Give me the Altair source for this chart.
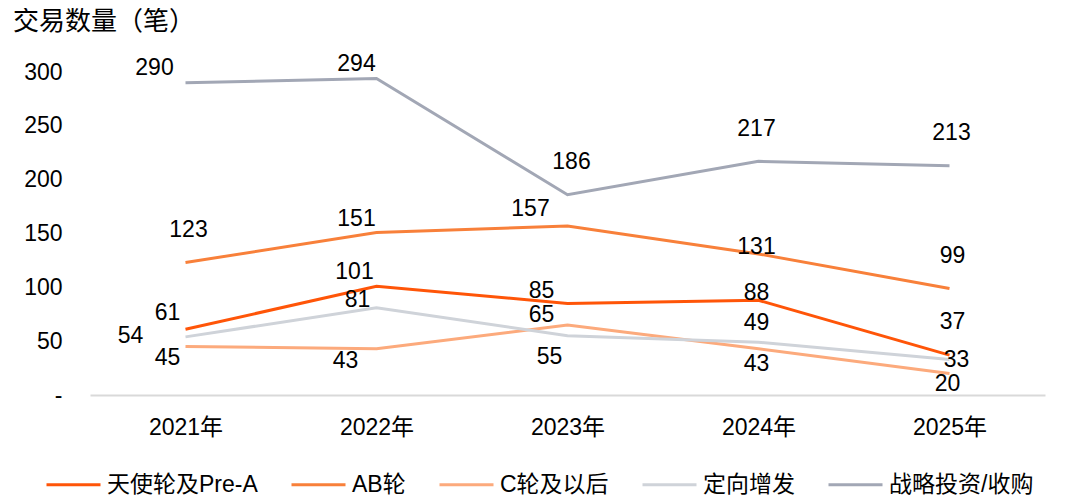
import altair as alt
import pandas as pd

years = ["2021年", "2022年", "2023年", "2024年", "2025年"]
series = ["天使轮及Pre-A", "AB轮", "C轮及以后", "定向增发", "战略投资/收购"]
colors = ["#FF5508", "#F8803A", "#FCAA7C", "#CFD3D9", "#A2A7B5"]

angel = [61, 101, 85, 88, 37]
ab = [123, 151, 157, 131, 99]
c_round = [45, 43, 65, 43, 20]
placement = [54, 81, 55, 49, 33]
strategic = [290, 294, 186, 217, 213]
values = [angel, ab, c_round, placement, strategic]

# label offsets in pixels (dx right, dy down), per series per year
label_dx = [
    [-18, -22, -26, -2, 3],
    [3, -20, -37, -2, 3],
    [-18, -31, -26, -2, -2],
    [-55, -19, -18, -2, 7],
    [-31, -20, 4, -2, 2],
]
label_dy = [
    [-16, -14, -12, -7, -33],
    [-33, -13, -17, -7, -32],
    [11, 12, -10, 15, 11],
    [-1, -8, 21, -19, 1],
    [-15, -14, -33, -32, -33],
]

W, H = 955, 323
YMAX = 300
px_per_x = W / len(years)
units_per_px_y = YMAX / H

rows = []
for s, name in enumerate(series):
    for i, v in enumerate(values[s]):
        rows.append({
            "series": name, "order": s, "idx": i, "value": v,
            "lx": i + label_dx[s][i] / px_per_x,
            "ly": v - label_dy[s][i] * units_per_px_y,
        })
df = pd.DataFrame(rows)

FONT = "Liberation Sans, Arial, Noto Sans CJK SC, sans-serif"
year_expr = "[" + ",".join(f"'{y}'" for y in years) + "][datum.value]"

xscale = alt.Scale(domain=[-0.5, len(years) - 0.5], nice=False, zero=False)
yscale = alt.Scale(domain=[0, YMAX], nice=False)

base = alt.Chart(df)

lines = base.mark_line(strokeWidth=3).encode(
    x=alt.X("idx:Q", scale=xscale, axis=alt.Axis(
        values=list(range(len(years))), labelExpr=year_expr, title=None,
        grid=False, ticks=False, tickSize=0, domainColor="#D9D9D9", domainWidth=2,
        labelFontSize=23, labelColor="black", labelFont=FONT, labelPadding=21)),
    y=alt.Y("value:Q", scale=yscale, axis=alt.Axis(
        values=[0, 50, 100, 150, 200, 250, 300],
        labelExpr="datum.value == 0 ? '-' : datum.label", title=None,
        grid=False, domain=False, ticks=False, tickSize=0,
        labelFontSize=23, labelColor="black", labelFont=FONT, labelPadding=28)),
    color=alt.Color("series:N", sort=series,
                    scale=alt.Scale(domain=series, range=colors),
                    legend=alt.Legend(
                        title=None, orient="none", direction="horizontal",
                        legendX=-45, legendY=384, symbolType="stroke",
                        symbolSize=2916, symbolStrokeWidth=3,
                        labelFontSize=23, labelFont=FONT, labelColor="black",
                        labelOffset=5, columnPadding=27, padding=0)),
    detail="series:N",
    order=alt.Order("idx:Q"),
)

labels = base.mark_text(fontSize=23, font=FONT, color="black",
                        align="center", baseline="middle").encode(
    x=alt.X("lx:Q", scale=xscale),
    y=alt.Y("ly:Q", scale=yscale),
    text=alt.Text("value:Q"),
)

title = alt.Chart(pd.DataFrame({"t": ["交易数量（笔）"]})).mark_text(
    fontSize=26, font=FONT, color="black", align="left", baseline="middle"
).encode(text="t:N", x=alt.value(-77), y=alt.value(-50))

chart = alt.layer(lines, labels, title).properties(
    width=W, height=H,
    padding={"left": 82, "top": 64, "right": 12, "bottom": 104},
    autosize=alt.AutoSizeParams(type="none"),
).configure_view(stroke=None)

chart.save("out.html", embed_options={"renderer": "svg", "actions": False})
